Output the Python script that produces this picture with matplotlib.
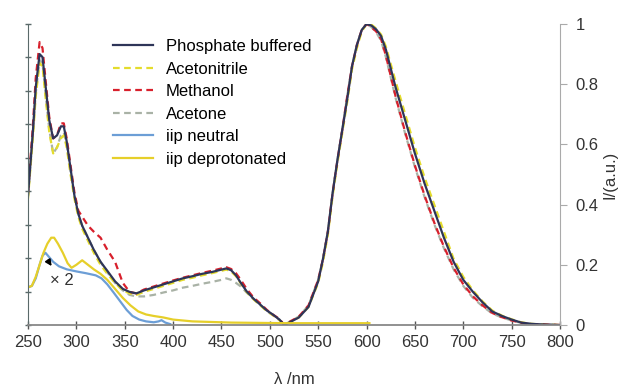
import numpy as np
import matplotlib
matplotlib.use("Agg")
import matplotlib.pyplot as plt

plt.rcParams['font.family'] = ['Liberation Sans', 'DejaVu Sans']

# ── data ──────────────────────────────────────────────────────────────
abs_wl = [250, 255, 258, 262, 265, 268, 272, 276, 280, 284, 287, 290, 294, 298,
          302, 306, 312, 318, 325, 332, 340, 348, 355, 362, 370, 380, 390, 400,
          410, 420, 430, 440, 450, 455, 460, 465, 470, 476, 483, 490, 497, 503, 510]
em_wl = [515, 520, 530, 540, 550, 555, 560, 565, 570, 575, 580, 585, 590, 595, 600,
         605, 610, 615, 620, 630, 640, 650, 660, 670, 680, 690, 700, 710, 720, 730,
         740, 750, 760, 770, 780, 790, 800]

phos_abs = [0.43, 0.64, 0.79, 0.90, 0.89, 0.80, 0.68, 0.62, 0.63, 0.66, 0.66, 0.61, 0.52, 0.43,
            0.37, 0.33, 0.29, 0.25, 0.21, 0.18, 0.145, 0.12, 0.11, 0.105, 0.115, 0.125, 0.135, 0.145,
            0.155, 0.162, 0.170, 0.176, 0.184, 0.188, 0.182, 0.165, 0.140, 0.112, 0.088, 0.068, 0.048, 0.035, 0.018]
acn_abs = [0.42, 0.62, 0.76, 0.87, 0.86, 0.76, 0.64, 0.57, 0.59, 0.62, 0.63, 0.59, 0.50, 0.42,
           0.36, 0.32, 0.28, 0.24, 0.20, 0.17, 0.14, 0.115, 0.105, 0.10, 0.11, 0.12, 0.13, 0.14,
           0.15, 0.157, 0.165, 0.172, 0.180, 0.184, 0.178, 0.162, 0.138, 0.110, 0.086, 0.066, 0.046, 0.033, 0.016]
meoh_abs = [0.44, 0.66, 0.82, 0.94, 0.92, 0.82, 0.69, 0.62, 0.63, 0.67, 0.67, 0.62, 0.53, 0.44,
            0.38, 0.36, 0.33, 0.31, 0.29, 0.25, 0.21, 0.14, 0.11, 0.105, 0.118, 0.128, 0.138, 0.148,
            0.157, 0.165, 0.173, 0.180, 0.188, 0.192, 0.186, 0.172, 0.150, 0.120, 0.092, 0.072, 0.050, 0.035, 0.020]
acet_abs = [0.43, 0.63, 0.77, 0.88, 0.87, 0.77, 0.65, 0.57, 0.59, 0.63, 0.64, 0.60, 0.51, 0.43,
            0.37, 0.33, 0.29, 0.25, 0.21, 0.175, 0.14, 0.115, 0.10, 0.095, 0.095, 0.10, 0.108, 0.115,
            0.124, 0.130, 0.137, 0.143, 0.150, 0.155, 0.150, 0.140, 0.128, 0.108, 0.086, 0.066, 0.046, 0.033, 0.016]

phos_em = [0.0, 0.008, 0.025, 0.06, 0.145, 0.22, 0.31, 0.44, 0.55, 0.65, 0.75, 0.86, 0.93, 0.98, 1.0,
           0.995, 0.982, 0.96, 0.915, 0.79, 0.68, 0.57, 0.47, 0.38, 0.29, 0.21, 0.15, 0.11, 0.075, 0.045,
           0.03, 0.018, 0.008, 0.004, 0.002, 0.001, 0.0]
acn_em = [0.0, 0.008, 0.025, 0.06, 0.14, 0.21, 0.30, 0.43, 0.54, 0.64, 0.74, 0.85, 0.92, 0.975, 1.0,
          0.998, 0.985, 0.965, 0.925, 0.81, 0.70, 0.59, 0.49, 0.40, 0.31, 0.22, 0.16, 0.115, 0.078, 0.048,
          0.031, 0.019, 0.009, 0.004, 0.002, 0.001, 0.0]
meoh_em = [0.0, 0.01, 0.028, 0.065, 0.15, 0.22, 0.31, 0.44, 0.55, 0.65, 0.76, 0.86, 0.93, 0.98, 1.0,
           0.99, 0.975, 0.95, 0.895, 0.76, 0.64, 0.53, 0.43, 0.34, 0.26, 0.19, 0.135, 0.095, 0.065, 0.04,
           0.026, 0.015, 0.007, 0.003, 0.002, 0.001, 0.0]
acet_em = [0.0, 0.01, 0.028, 0.065, 0.15, 0.22, 0.31, 0.44, 0.55, 0.65, 0.76, 0.86, 0.93, 0.98, 1.0,
           0.99, 0.972, 0.945, 0.89, 0.755, 0.635, 0.525, 0.425, 0.335, 0.255, 0.185, 0.13, 0.09, 0.062, 0.038,
           0.025, 0.015, 0.007, 0.003, 0.002, 0.001, 0.0]

iip_n_wl = [250, 254, 258, 262, 265, 268, 272, 276, 282, 290, 300, 310, 320, 326, 332, 338,
            345, 352, 358, 365, 372, 380, 385, 388, 392, 397]
iip_n = [0.125, 0.13, 0.155, 0.20, 0.23, 0.24, 0.225, 0.21, 0.195, 0.185, 0.178, 0.172, 0.165, 0.155, 0.135, 0.11,
         0.08, 0.05, 0.03, 0.018, 0.012, 0.009, 0.012, 0.016, 0.008, 0.003]
iip_d_wl = [250, 254, 258, 262, 266, 270, 274, 277, 281, 286, 291, 295, 300, 306, 312, 318,
            325, 332, 340, 348, 356, 364, 372, 380, 390, 400, 420, 460, 520, 560, 603]
iip_d = [0.125, 0.13, 0.16, 0.20, 0.24, 0.27, 0.29, 0.29, 0.27, 0.24, 0.205, 0.19, 0.2, 0.215, 0.2, 0.185,
         0.17, 0.15, 0.12, 0.09, 0.065, 0.045, 0.035, 0.03, 0.025, 0.018, 0.012, 0.008, 0.006, 0.006, 0.006]

x_ticks = [250, 300, 350, 400, 450, 500, 550, 600, 650, 700, 750, 800]
right_ticks = [0, 0.2, 0.4, 0.6, 0.8, 1]
right_labels = ['0', '0.2', '0.4', '0.6', '0.8', '1']

# ── plot ──────────────────────────────────────────────────────────────
fig = plt.figure(figsize=(6.22, 3.89), dpi=100)
ax = fig.add_axes([28/622, 1 - 325/389, (560-28)/622, (325-24)/389])

series = [
    ("Phosphate buffered", phos_abs, phos_em, '#2e3558', '-'),
    ("Acetonitrile", acn_abs, acn_em, '#e4dc2c', (0, (3, 2))),
    ("Methanol", meoh_abs, meoh_em, '#d8202c', (0, (3, 2))),
    ("Acetone", acet_abs, acet_em, '#a9b2a6', (0, (3, 2))),
]
# phosphate drawn last so it sits on top, as in the reference
for name, a, e, col, ls in [series[3], series[1], series[2], series[0]]:
    ax.plot(abs_wl + em_wl, a + e, color=col, ls=ls, lw=1.6, label=name)
ax.plot(iip_n_wl, iip_n, color='#6c9ed6', lw=1.6, label='iip neutral')
ax.plot(iip_d_wl, iip_d, color='#e6cf2a', lw=1.6, label='iip deprotonated')

ax.annotate('', xy=(276, 0.188), xytext=(269, 0.222),
            arrowprops=dict(arrowstyle='-|>', color='black', lw=1.2, mutation_scale=9))
ax.text(285, 0.148, '× 2', fontsize=12, ha='center', va='center', color='#333333')

ax.set_xlim(250, 800)
ax.set_ylim(0, 1.0)
ax.set_xticks(x_ticks)
ax.set_yticks(np.linspace(0, 1.0, 10))
ax.set_yticklabels([])
ax.tick_params(axis='x', direction='inout', length=6, width=1, colors='#555555',
               labelcolor='#333333', labelsize=12, pad=4)
ax.tick_params(axis='y', direction='inout', length=5, width=1, colors='#5a6a6a')
for s in ['top', 'right']:
    ax.spines[s].set_visible(False)
ax.spines['left'].set_color('#5a6a6a')
ax.spines['bottom'].set_color('#888888')
ax.spines['bottom'].set_linewidth(1.3)
ax.set_xlabel('λ /nm', fontsize=12, color='#333333', labelpad=16)

ax2 = ax.twinx()
ax2.set_ylim(0, 1.0)
ax2.set_yticks(right_ticks)
ax2.set_yticklabels(right_labels)
for s in ['top', 'left', 'bottom']:
    ax2.spines[s].set_visible(False)
ax2.spines['right'].set_color('#aaaaaa')
ax2.tick_params(axis='y', direction='out', length=5, colors='#aaaaaa',
                labelcolor='#333333', labelsize=12, pad=6)
ax2.set_ylabel('I/(a.u.)', fontsize=12, color='#333333', labelpad=3)

handles, labels = ax.get_legend_handles_labels()
order = ["Phosphate buffered", "Acetonitrile", "Methanol", "Acetone", "iip neutral", "iip deprotonated"]
hmap = dict(zip(labels, handles))
fig.legend([hmap[k] for k in order], order, loc='upper left',
           bbox_to_anchor=(105/622, 1 - 31/389), frameon=False, fontsize=12,
           handlelength=2.4, handletextpad=0.75, labelspacing=0.45, borderpad=0)

fig.savefig('out.png', dpi=100)
